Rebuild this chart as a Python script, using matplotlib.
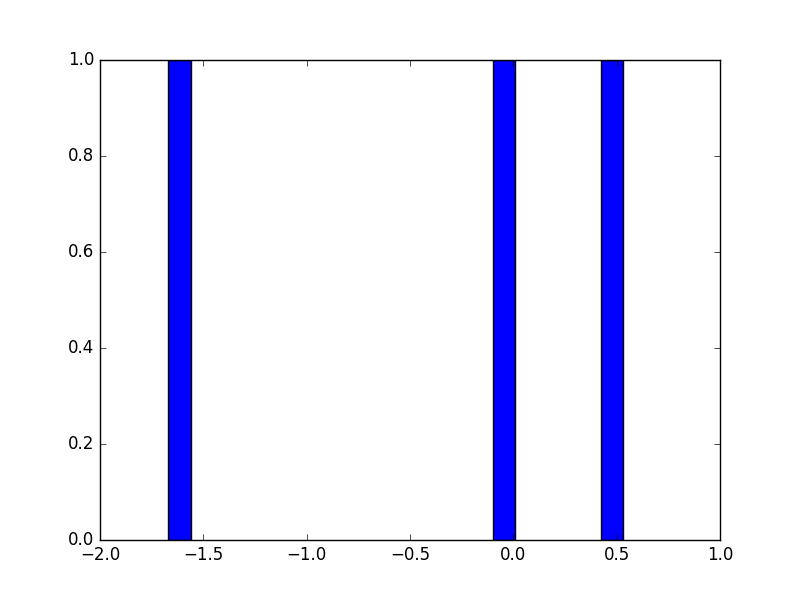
import numpy as np
import matplotlib
matplotlib.use("Agg")
import matplotlib.pyplot as plt

plt.style.use("classic")

# three samples, one count each
bar_left = [-1.669, -0.099, 0.423]
bar_width = 0.109
counts = [1, 1, 1]

fig, ax = plt.subplots(figsize=(8, 6), dpi=100)
ax.bar(bar_left, counts, width=bar_width, align="edge", color="blue", edgecolor="black")
ax.set_xlim(-2.0, 1.0)
ax.set_ylim(0.0, 1.0)

fig.savefig("out.png", dpi=100)
